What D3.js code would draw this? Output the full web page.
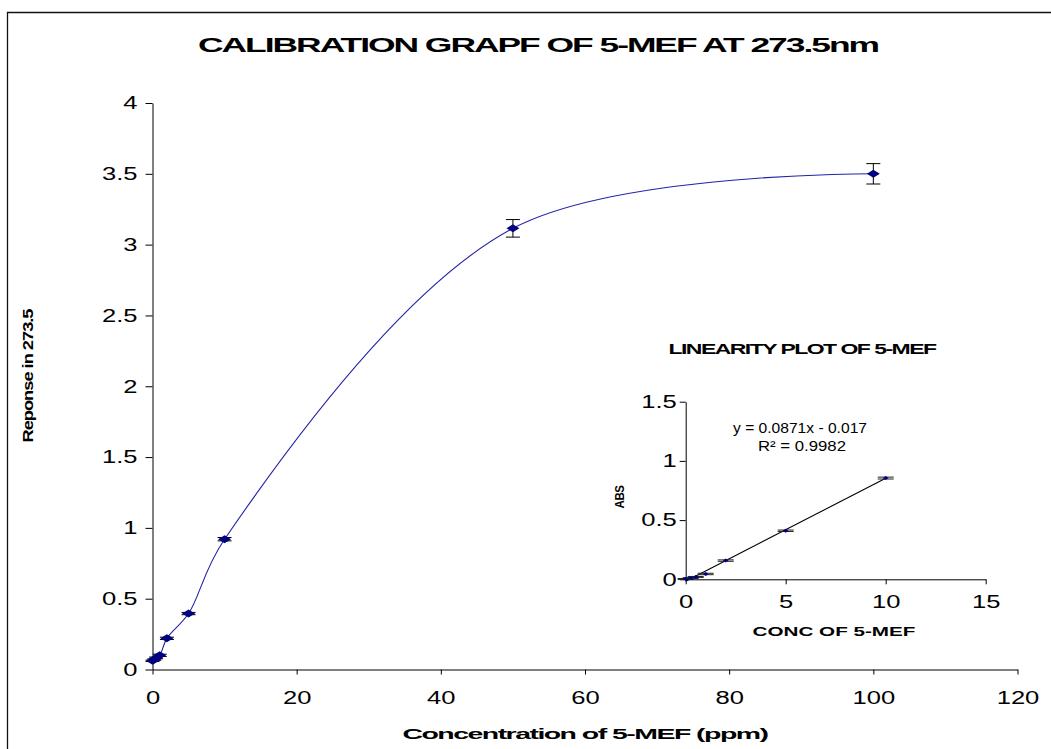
<!DOCTYPE html>
<html>
<head>
<meta charset="utf-8">
<script src="https://cdn.jsdelivr.net/npm/d3@7"></script>
<style>
  html, body { margin: 0; padding: 0; background: #fff; }
  svg { display: block; }
  text { font-family: "Liberation Sans", Arial, sans-serif; fill: #000; }
</style>
</head>
<body>
<svg id="chart" width="1051" height="749"></svg>
<script>
// Calibration series (concentration in ppm vs. response)
const mainConc = [0, 0.25, 0.5, 1, 2, 5, 10, 50, 100];
const mainResp = [0.061, 0.07, 0.082, 0.1, 0.22, 0.395, 0.92, 3.115, 3.5];
const mainErr  = [0.005, 0.005, 0.006, 0.008, 0.008, 0.008, 0.012, 0.062, 0.072];
const mainXTicks = [0, 20, 40, 60, 80, 100, 120];
const mainYTicks = [0, 0.5, 1, 1.5, 2, 2.5, 3, 3.5, 4];

// Linearity series (inset)
const insetConc = [0, 0.25, 0.5, 1, 2, 5, 10];
const insetAbs  = [0.003, 0.01, 0.02, 0.045, 0.158, 0.41, 0.855];
const insetErr  = [0.004, 0.004, 0.004, 0.006, 0.006, 0.006, 0.008];
const insetXTicks = [0, 5, 10, 15];
const insetYTicks = [0, 0.5, 1, 1.5];
const trendSlope = 0.0871;
const trendIntercept = -0.017;
const trendRange = [0, 10];

const svg = d3.select("#chart");
const STRETCH = 1.42;

// outer frame (left and top edges)
svg.append("path")
  .attr("d", "M7.5,749 L7.5,12.5 L1051,12.5")
  .attr("fill", "none").attr("stroke", "#111").attr("stroke-width", 1.3);

// ---------- main chart ----------
const x = d3.scaleLinear().domain([0, 120]).range([152.5, 1017.5]);
const y = d3.scaleLinear().domain([0, 4]).range([669.5, 103]);

function styleAxis(g) {
  g.selectAll("path.domain").attr("stroke", "#000").attr("stroke-width", 1);
  g.selectAll(".tick line").attr("stroke", "#000").attr("stroke-width", 1);
  g.selectAll(".tick text").attr("font-size", 18).attr("font-family", null);
}

const gx = svg.append("g").attr("transform", `translate(0,${y(0)})`)
  .call(d3.axisBottom(x).tickValues(mainXTicks).tickSize(5).tickSizeOuter(0).tickPadding(16.5)
    .tickFormat(d3.format("d")));
const gy = svg.append("g").attr("transform", `translate(${x(0)},0)`)
  .call(d3.axisLeft(y).tickValues(mainYTicks).tickSize(7).tickSizeOuter(0).tickPadding(8)
    .tickFormat(d => String(d)));
styleAxis(gx); styleAxis(gy);

const mainPts = mainConc.map((c, i) => ({ c, r: mainResp[i], e: mainErr[i] }));

// smoothed connecting line
svg.append("path")
  .datum(mainPts)
  .attr("fill", "none")
  .attr("stroke", "#2323a6")
  .attr("stroke-width", 1.1)
  .attr("d", d3.line().x(d => x(d.c)).y(d => y(d.r)).curve(d3.curveCatmullRom.alpha(0.5)));

const errG = svg.append("g").attr("stroke", "#000").attr("stroke-width", 1);
mainPts.forEach(d => {
  const cx = x(d.c), t = y(d.r + d.e), b = y(d.r - d.e);
  errG.append("line").attr("x1", cx).attr("x2", cx).attr("y1", t).attr("y2", b);
  errG.append("line").attr("x1", cx - 7).attr("x2", cx + 7).attr("y1", t).attr("y2", t);
  errG.append("line").attr("x1", cx - 7).attr("x2", cx + 7).attr("y1", b).attr("y2", b);
});

function diamond(cx, cy, hw, hh) {
  return `M${cx - hw},${cy} L${cx},${cy - hh} L${cx + hw},${cy} L${cx},${cy + hh} Z`;
}
svg.append("g").selectAll("path").data(mainPts).join("path")
  .attr("d", d => diamond(x(d.c), y(d.r), 6.5, 4))
  .attr("fill", "#000080");

// titles
svg.append("text").attr("x", 538).attr("y", 52).attr("text-anchor", "middle")
  .attr("font-size", 21).attr("font-weight", "bold").attr("letter-spacing", -1.2)
  .attr("textLength", 680).attr("lengthAdjust", "spacingAndGlyphs")
  .text("CALIBRATION GRAPF OF 5-MEF AT 273.5nm");

svg.append("text").attr("x", 585).attr("y", 739).attr("text-anchor", "middle")
  .attr("font-size", 15).attr("font-weight", "bold").attr("letter-spacing", -0.8)
  .attr("textLength", 365).attr("lengthAdjust", "spacingAndGlyphs")
  .text("Concentration of 5-MEF (ppm)");

svg.append("text").attr("transform", "translate(33,376) rotate(-90)")
  .attr("text-anchor", "middle")
  .attr("font-size", 14.5).attr("font-weight", "bold").attr("letter-spacing", -0.8)
  .attr("textLength", 133).attr("lengthAdjust", "spacingAndGlyphs")
  .text("Reponse in 273.5");

// ---------- inset: linearity plot ----------
const ix = d3.scaleLinear().domain([0, 15]).range([685.7, 985.7]);
const iy = d3.scaleLinear().domain([0, 1.5]).range([579.3, 401.7]);

const igx = svg.append("g").attr("transform", `translate(0,${iy(0)})`)
  .call(d3.axisBottom(ix).tickValues(insetXTicks).tickSize(5).tickSizeOuter(0).tickPadding(11)
    .tickFormat(d3.format("d")));
const igy = svg.append("g").attr("transform", `translate(${ix(0)},0)`)
  .call(d3.axisLeft(iy).tickValues(insetYTicks).tickSize(6).tickSizeOuter(0).tickPadding(3)
    .tickFormat(d => String(d)));
styleAxis(igx); styleAxis(igy);

// fitted line from the stated equation
svg.append("line")
  .attr("x1", ix(trendRange[0])).attr("y1", iy(trendSlope * trendRange[0] + trendIntercept))
  .attr("x2", ix(trendRange[1])).attr("y2", iy(trendSlope * trendRange[1] + trendIntercept))
  .attr("stroke", "#000").attr("stroke-width", 1.1);

const insetPts = insetConc.map((c, i) => ({ c, a: insetAbs[i], e: insetErr[i] }));
const ierrG = svg.append("g").attr("stroke", "#222").attr("stroke-width", 1);
insetPts.forEach(d => {
  const cx = ix(d.c), t = iy(d.a + d.e), b = iy(d.a - d.e);
  ierrG.append("line").attr("x1", cx).attr("x2", cx).attr("y1", t).attr("y2", b);
  ierrG.append("line").attr("x1", cx - 8).attr("x2", cx + 8).attr("y1", t).attr("y2", t);
  ierrG.append("line").attr("x1", cx - 8).attr("x2", cx + 8).attr("y1", b).attr("y2", b);
});
svg.append("g").selectAll("path").data(insetPts).join("path")
  .attr("d", d => diamond(ix(d.c), iy(d.a), 2.8, 2))
  .attr("fill", "#000080");

svg.append("text").attr("x", 802).attr("y", 354).attr("text-anchor", "middle")
  .attr("font-size", 15).attr("font-weight", "bold").attr("letter-spacing", -1)
  .attr("textLength", 267).attr("lengthAdjust", "spacingAndGlyphs")
  .text("LINEARITY PLOT OF 5-MEF");

svg.append("text").attr("x", 800).attr("y", 433).attr("text-anchor", "middle")
  .attr("font-size", 14)
  .attr("textLength", 134).attr("lengthAdjust", "spacingAndGlyphs")
  .text(`y = ${trendSlope}x - ${Math.abs(trendIntercept)}`);

svg.append("text").attr("x", 802).attr("y", 451).attr("text-anchor", "middle")
  .attr("font-size", 14)
  .attr("textLength", 88).attr("lengthAdjust", "spacingAndGlyphs")
  .text("R\u00B2 = 0.9982");

svg.append("text").attr("x", 834).attr("y", 636).attr("text-anchor", "middle")
  .attr("font-size", 13).attr("font-weight", "bold")
  .attr("textLength", 163).attr("lengthAdjust", "spacingAndGlyphs")
  .text("CONC OF 5-MEF");

svg.append("text").attr("transform", "translate(624,497) rotate(-90)")
  .attr("text-anchor", "middle")
  .attr("font-size", 13).attr("font-weight", "bold").attr("letter-spacing", -0.5)
  .attr("textLength", 23).attr("lengthAdjust", "spacingAndGlyphs")
  .text("ABS");

// tick labels are drawn horizontally widened
svg.selectAll(".tick text").each(function () {
  const w = this.getComputedTextLength();
  d3.select(this).attr("textLength", w * STRETCH).attr("lengthAdjust", "spacingAndGlyphs");
});
</script>
</body>
</html>
